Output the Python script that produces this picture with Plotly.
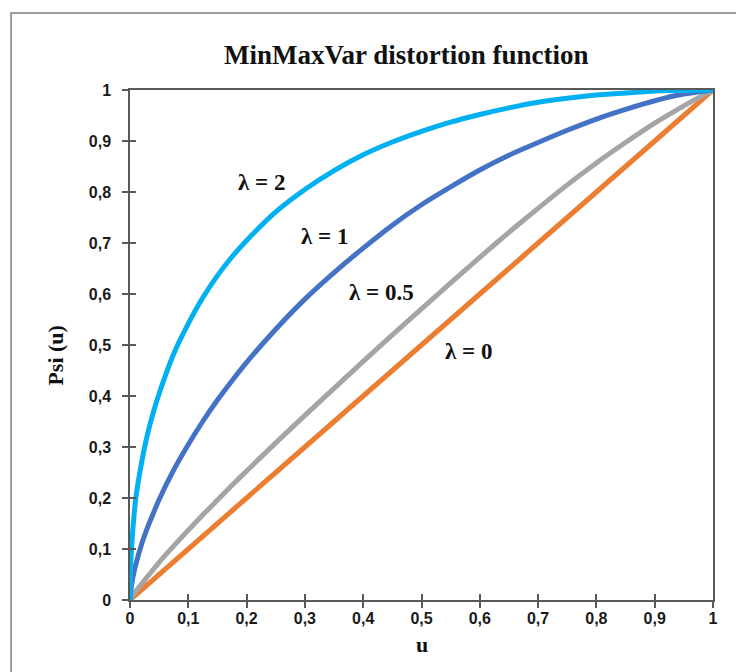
import plotly.graph_objects as go

# ---- data ----
u_values = [0, 0.001, 0.0025, 0.005, 0.01, 0.02, 0.03, 0.04, 0.05, 0.075, 0.1, 0.125,
            0.15, 0.175, 0.2, 0.25, 0.3, 0.35, 0.4, 0.45, 0.5, 0.55, 0.6, 0.65, 0.7,
            0.75, 0.8, 0.85, 0.9, 0.95, 1.0]
psi_lambda_2 = [0, 0.062, 0.1, 0.14, 0.2, 0.27, 0.325, 0.368, 0.405, 0.483, 0.542, 0.593,
                0.636, 0.673, 0.705, 0.761, 0.805, 0.842, 0.873, 0.898, 0.919, 0.937,
                0.952, 0.965, 0.976, 0.984, 0.99, 0.994, 0.998, 0.999, 1.0]
psi_lambda_1 = [0, 0.015, 0.0275, 0.045, 0.07, 0.11, 0.142, 0.17, 0.197, 0.255, 0.305,
                0.3505, 0.392, 0.43, 0.466, 0.531, 0.59, 0.642, 0.69, 0.735, 0.775, 0.81,
                0.843, 0.872, 0.897, 0.921, 0.943, 0.962, 0.979, 0.992, 1.0]
psi_lambda_05 = [0, 0.002, 0.0047, 0.009, 0.017, 0.032, 0.046, 0.06, 0.074, 0.106, 0.137,
                 0.167, 0.196, 0.225, 0.253, 0.308, 0.362, 0.415, 0.468, 0.52, 0.571,
                 0.622, 0.672, 0.721, 0.768, 0.814, 0.857, 0.897, 0.935, 0.969, 1.0]
psi_lambda_0 = [0, 0.001, 0.0025, 0.005, 0.01, 0.02, 0.03, 0.04, 0.05, 0.075, 0.1, 0.125,
                0.15, 0.175, 0.2, 0.25, 0.3, 0.35, 0.4, 0.45, 0.5, 0.55, 0.6, 0.65, 0.7,
                0.75, 0.8, 0.85, 0.9, 0.95, 1.0]

series_names = ["λ = 0", "λ = 0.5", "λ = 1", "λ = 2"]
series_values = [psi_lambda_0, psi_lambda_05, psi_lambda_1, psi_lambda_2]
series_colors = ["#ED7D31", "#A5A5A5", "#4472C4", "#00B0F0"]

tick_vals = [0, 0.1, 0.2, 0.3, 0.4, 0.5, 0.6, 0.7, 0.8, 0.9, 1.0]
tick_text = ["0", "0,1", "0,2", "0,3", "0,4", "0,5", "0,6", "0,7", "0,8", "0,9", "1"]

title_text = "MinMaxVar distortion function"
x_title = "u"
y_title = "Psi (u)"

# label positions (data coords) for each series, same order as series_names
label_pos = [(0.581, 0.488), (0.431, 0.602), (0.334, 0.712), (0.226, 0.819)]

AXC = "#595959"
SERIF = "Liberation Serif, Times New Roman, serif"
SANS = "Liberation Sans, Arial, sans-serif"

fig = go.Figure()
for name, vals, col in zip(series_names, series_values, series_colors):
    fig.add_trace(go.Scatter(x=u_values, y=vals, mode="lines", name=name,
                             line=dict(color=col, width=5, shape="spline", smoothing=0.6),
                             showlegend=False, hoverinfo="skip"))

# dummy trace for overlay axes (inside half of crossing ticks)
fig.add_trace(go.Scatter(x=[None], y=[None], xaxis="x2", yaxis="y2",
                         showlegend=False, hoverinfo="skip"))

axis_common = dict(range=[0, 1], tickvals=tick_vals, showgrid=False, zeroline=False,
                   ticklen=6, tickwidth=1.5, tickcolor=AXC)
tickfont = dict(family=SANS, size=16, color="#1a1a1a", weight="bold")

# page body has an 8px margin: figure is 736x664 so it fits the 744x672 window
fig.update_layout(
    width=736, height=664,
    margin=dict(l=122, r=31, t=82, b=72),
    paper_bgcolor="white", plot_bgcolor="white",
    xaxis=dict(**axis_common, ticktext=tick_text, ticks="outside",
               showline=True, linecolor=AXC, linewidth=1.5, mirror=True,
               tickfont=tickfont, ticklabelstandoff=-3),
    yaxis=dict(**axis_common, ticktext=tick_text, ticks="outside",
               showline=True, linecolor=AXC, linewidth=1.5, mirror=True,
               tickfont=tickfont, ticklabelstandoff=8),
    xaxis2=dict(**axis_common, overlaying="x", anchor="y2", ticks="inside",
                showticklabels=False, showline=False, side="bottom"),
    yaxis2=dict(**axis_common, overlaying="y", anchor="x2", ticks="inside",
                showticklabels=False, showline=False, side="left"),
)

# outer frame
fig.add_shape(type="rect", xref="paper", yref="paper",
              x0=-0.204, x1=1.3, y0=-0.4, y1=1.151,
              line=dict(color="#7f7f7f", width=1.5), layer="below")

# titles
fig.add_annotation(text="<b>" + title_text + "</b>", xref="paper", yref="paper",
                   x=0.475, y=1.0686, xanchor="center", yanchor="middle",
                   showarrow=False, font=dict(family=SERIF, size=27, color="#111"))
fig.add_annotation(text="<b>" + x_title + "</b>", xref="paper", yref="paper",
                   x=0.5, y=-0.088, xanchor="center", yanchor="middle",
                   showarrow=False, font=dict(family=SERIF, size=22, color="#111"))
fig.add_annotation(text="<b>" + y_title + "</b>", xref="paper", yref="paper",
                   x=-0.128, y=0.48, xanchor="center", yanchor="middle", textangle=-90,
                   showarrow=False, font=dict(family=SERIF, size=22, color="#111"))

for name, (lx, ly) in zip(series_names, label_pos):
    fig.add_annotation(text="<b>" + name + "</b>", x=lx, y=ly, xref="x", yref="y",
                       xanchor="center", yanchor="middle", showarrow=False,
                       font=dict(family=SERIF, size=23, color="#111"))

fig.write_html("out.html")
